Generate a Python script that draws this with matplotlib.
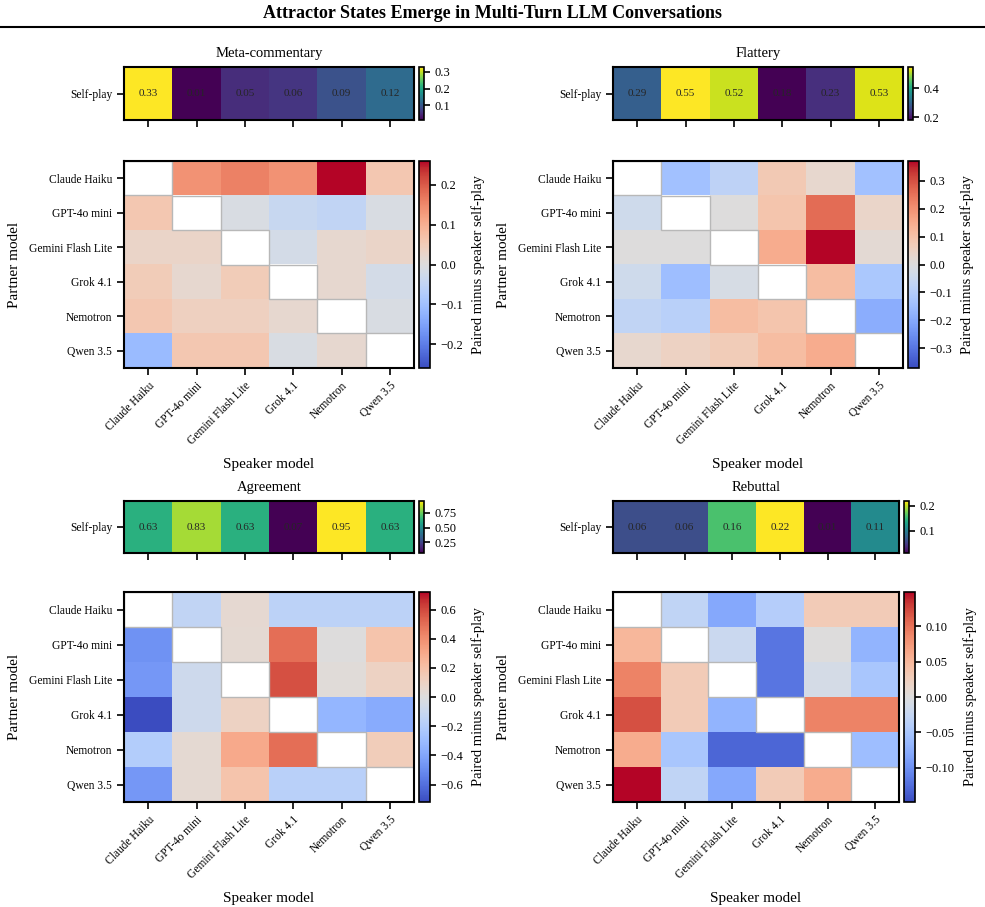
import numpy as np
import matplotlib
matplotlib.use("Agg")
import matplotlib.pyplot as plt
from matplotlib.lines import Line2D
from matplotlib.patches import Rectangle

plt.rcParams['font.family'] = ['Liberation Serif', 'DejaVu Serif']

models = ["Claude Haiku", "GPT-4o mini", "Gemini Flash Lite", "Grok 4.1", "Nemotron", "Qwen 3.5"]
nan = np.nan

# self-play rates per speaker model
meta_self = [0.33, 0.01, 0.05, 0.06, 0.09, 0.12]
flattery_self = [0.29, 0.55, 0.52, 0.18, 0.23, 0.53]
agreement_self = [0.63, 0.83, 0.63, 0.07, 0.95, 0.63]
rebuttal_self = [0.06, 0.06, 0.16, 0.22, 0.01, 0.11]

# paired minus speaker self-play (rows = partner, cols = speaker)
meta_delta = [
    [nan, 0.14, 0.16, 0.14, 0.26, 0.06],
    [0.06, nan, -0.01, -0.04, -0.05, -0.01],
    [0.03, 0.03, nan, -0.02, 0.02, 0.03],
    [0.05, 0.02, 0.05, nan, 0.02, -0.02],
    [0.06, 0.04, 0.04, 0.02, nan, -0.01],
    [-0.11, 0.06, 0.06, -0.01, 0.02, nan],
]
flattery_delta = [
    [nan, -0.14, -0.08, 0.08, 0.03, -0.14],
    [-0.04, nan, 0.0, 0.09, 0.26, 0.04],
    [0.0, 0.0, nan, 0.15, 0.37, 0.02],
    [-0.04, -0.15, -0.02, nan, 0.11, -0.12],
    [-0.07, -0.09, 0.11, 0.09, nan, -0.19],
    [0.03, 0.05, 0.07, 0.11, 0.15, nan],
]
agreement_delta = [
    [nan, -0.14, 0.05, -0.16, -0.16, -0.16],
    [-0.48, nan, 0.04, 0.50, 0.0, 0.18],
    [-0.46, -0.08, nan, 0.58, 0.02, 0.10],
    [-0.72, -0.08, 0.10, nan, -0.33, -0.38],
    [-0.20, 0.04, 0.30, 0.50, nan, 0.13],
    [-0.46, 0.04, 0.18, -0.18, -0.18, nan],
]
rebuttal_delta = [
    [nan, -0.03, -0.08, -0.04, 0.03, 0.03],
    [0.05, nan, -0.02, -0.12, 0.0, -0.07],
    [0.09, 0.03, nan, -0.12, -0.01, -0.05],
    [0.12, 0.03, -0.07, nan, 0.09, 0.09],
    [0.06, -0.05, -0.13, -0.13, nan, -0.06],
    [0.148, -0.03, -0.08, 0.03, 0.06, nan],
]

W, H = 985, 907
fig = plt.figure(figsize=(W / 100, H / 100), dpi=100)


def px(x0, y0, x1, y1):
    # pixel box -> figure fraction rect
    return [x0 / W, 1 - y1 / H, (x1 - x0) / W, (y1 - y0) / H]


def style_ax(ax):
    for s in ax.spines.values():
        s.set_linewidth(1.5)
    ax.tick_params(direction='out', length=5, width=1.2, labelsize=8.3)


def draw_panel(title, selfplay, delta, x0, x1, ys, yh, cb_strip, cb_heat):
    ax_s = fig.add_axes(px(x0, ys[0], x1, ys[1]))
    cax_s = fig.add_axes(px(cb_strip[0], ys[0], cb_strip[1], ys[1]))
    ax_h = fig.add_axes(px(x0, yh[0], x1, yh[1]))
    cax_h = fig.add_axes(px(cb_heat[0], yh[0], cb_heat[1], yh[1]))

    sp = np.array(selfplay)[None, :]
    m = ax_s.pcolormesh(sp, cmap='viridis', vmin=sp.min(), vmax=sp.max())
    for j, v in enumerate(selfplay):
        ax_s.text(j + 0.5, 0.5, f"{v:.2f}", ha='center', va='center', fontsize=8, color='#262626')
    ax_s.set_xlim(0, 6)
    ax_s.set_ylim(1, 0)
    ax_s.set_xticks(np.arange(6) + 0.5)
    ax_s.set_xticklabels([])
    ax_s.set_yticks([0.5])
    ax_s.set_yticklabels(["Self-play"])
    ax_s.set_title(title, fontsize=10.5, pad=7)
    style_ax(ax_s)
    cb = fig.colorbar(m, cax=cax_s)
    cb.outline.set_linewidth(1.2)
    cb.ax.tick_params(labelsize=9, length=4, width=1.2)

    arr = np.array(delta, dtype=float)
    vmax = np.nanmax(np.abs(arr))
    cmap = plt.get_cmap('coolwarm').with_extremes(bad='white')
    mh = ax_h.pcolormesh(np.ma.masked_invalid(arr), cmap=cmap, vmin=-vmax, vmax=vmax)
    # empty diagonal cells get a grey frame
    for i in range(6):
        for j in range(6):
            if np.isnan(arr[i, j]):
                ax_h.add_patch(Rectangle((j, i), 1, 1, facecolor='white',
                                         edgecolor='#b8b8b8', lw=1.0))
    ax_h.set_xlim(0, 6)
    ax_h.set_ylim(6, 0)
    ax_h.set_xticks(np.arange(6) + 0.5)
    ax_h.set_xticklabels(models, rotation=45, ha='right', rotation_mode='anchor')
    ax_h.set_yticks(np.arange(6) + 0.5)
    ax_h.set_yticklabels(models)
    ax_h.set_xlabel("Speaker model", fontsize=11, labelpad=8)
    ax_h.set_ylabel("Partner model", fontsize=11, labelpad=6)
    style_ax(ax_h)
    cbh = fig.colorbar(mh, cax=cax_h)
    cbh.outline.set_linewidth(1.2)
    cbh.ax.tick_params(labelsize=9, length=4, width=1.2)
    cbh.set_label("Paired minus speaker self-play", fontsize=10.5, labelpad=6)


draw_panel("Meta-commentary", meta_self, meta_delta, 124, 414, (67, 120), (161, 368), (419, 424), (419, 430))
draw_panel("Flattery", flattery_self, flattery_delta, 613, 903, (67, 120), (161, 368), (908, 913), (908, 919))
draw_panel("Agreement", agreement_self, agreement_delta, 124, 414, (501, 553), (592, 802), (419, 424), (419, 430))
draw_panel("Rebuttal", rebuttal_self, rebuttal_delta, 613, 899, (501, 553), (592, 802), (904, 909), (904, 915))

fig.text(0.5, 1 - 14 / H, "Attractor States Emerge in Multi-Turn LLM Conversations",
         ha='center', va='center', fontsize=13, fontweight='bold')
fig.add_artist(Line2D([0, 1], [1 - 27 / H, 1 - 27 / H], color='black', lw=1.5))

fig.savefig("out.png", dpi=100)
